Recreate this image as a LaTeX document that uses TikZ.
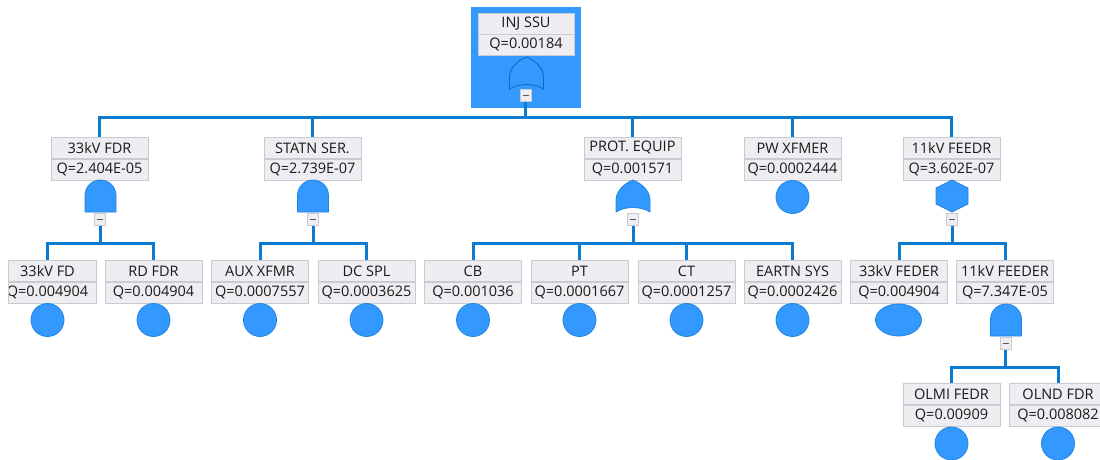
\documentclass[tikz,border=0pt]{standalone}
\usepackage{fontspec}
\setmainfont{Open Sans}
\usetikzlibrary{shapes.geometric}
\definecolor{gblue}{HTML}{3399FF}
\definecolor{gedge}{HTML}{1F86E0}
\definecolor{wire}{HTML}{0B7AD1}
\definecolor{boxfill}{HTML}{EEEEF2}
\definecolor{boxedge}{HTML}{CACAD2}
\definecolor{txt}{HTML}{1A1A1A}
\definecolor{seledge}{HTML}{1568BF}
\tikzset{
  lbl/.style={draw=boxedge, fill=boxfill, minimum width=97pt, minimum height=21pt, inner sep=0pt, line width=0.8pt, font=\fontsize{14.5}{15}\selectfont, text=txt},
  basic/.style={circle, draw=gedge, fill=gblue, minimum size=33pt, inner sep=0pt, line width=0.8pt},
  ellbasic/.style={ellipse, draw=gedge, fill=gblue, minimum width=46pt, minimum height=32pt, inner sep=0pt, line width=0.8pt},
  mbox/.style={draw=boxedge, fill=boxfill, minimum width=11pt, minimum height=12pt, inner sep=0pt, line width=0.8pt},
  wirel/.style={draw=wire, line width=3pt},
  gatefill/.style={fill=gblue, draw=gedge, line width=0.8pt},
  andg/.pic={\path[pic actions] (-15.5,-32) -- (-15.5,-15.5) arc[start angle=180,end angle=0,radius=15.5] -- (15.5,-32) -- cycle;},
  org/.pic={\path[pic actions] (0,0) .. controls (10,-4) and (17,-12) .. (17,-20) -- (17,-32) .. controls (8,-26) and (-8,-26) .. (-17,-32) -- (-17,-20) .. controls (-17,-12) and (-10,-4) .. (0,0) -- cycle;},
  hexg/.pic={\path[pic actions] (0,0) -- (16,-8) -- (16,-24) -- (0,-32) -- (-16,-24) -- (-16,-8) -- cycle;}
}
\newcommand\evbox[5]{%
  \node[lbl, anchor=north] (#1) at (#2,-#3) {#4};
  \node[lbl, anchor=north] (#1q) at (#1.south) {#5};}
\newcommand\minusbox[3]{%
  \node[mbox, anchor=north] (#1) at (#2,-#3) {\textcolor{gray!70!black}{\rule{6pt}{1.4pt}}};}
\begin{document}
\begin{tikzpicture}[x=1pt,y=1pt]
\clip (0,0) rectangle (1100,-459);
\fill[white] (0,0) rectangle (1100,-459);

% ---------- top event (selected) ----------
\node[fill=gblue, minimum width=110pt, minimum height=101pt, inner sep=0pt, anchor=north west] (sel) at (471,-7) {};
\node[lbl, anchor=north, minimum width=96pt, minimum height=20.5pt] (top) at (526,-13) {INJ SSU};
\node[lbl, anchor=north, minimum width=96pt, minimum height=20.5pt] (topq) at (top.south) {Q=0.00184};
\pic[fill=gblue, draw=seledge, line width=0.9pt] at (526.5,-57) {org};
\minusbox{mtop}{525.5}{89}

% ---------- level 2 ----------
\evbox{fdr}{99.5}{137}{33kV FDR}{Q=2.404E-05}
\evbox{stn}{312.5}{137}{STATN SER.}{Q=2.739E-07}
\evbox{prot}{632.5}{137}{PROT. EQUIP}{Q=0.001571}
\evbox{pw}{792.5}{137}{PW XFMER}{Q=0.0002444}
\evbox{elv}{951.5}{137}{11kV FEEDR}{Q=3.602E-07}

\draw[wirel] (mtop.south) -- ++(0,-16) -| (fdr.north);
\draw[wirel] (mtop.south) -- ++(0,-16) -| (stn.north);
\draw[wirel] (mtop.south) -- ++(0,-16) -| (prot.north);
\draw[wirel] (mtop.south) -- ++(0,-16) -| (pw.north);
\draw[wirel] (mtop.south) -- ++(0,-16) -| (elv.north);

\pic[gatefill] at (100.5,-180) {andg};
\minusbox{mfdr}{100}{213}
\pic[gatefill] at (313,-180) {andg};
\minusbox{mstn}{313}{213}
\pic[gatefill] at (633,-180) {org};
\minusbox{mprot}{633}{213}
\node[basic] (pwe) at (792.5,-197) {};
\pic[gatefill] at (952,-180) {hexg};
\minusbox{melv}{952}{213}

% ---------- level 3 ----------
\begin{scope}
\clip (8,-250) rectangle (100,-345);
\evbox{fd}{47.5}{260}{33kV FD}{Q=0.004904}
\end{scope}
\draw[boxedge, line width=0.8pt] (8.4,-260) -- (8.4,-303);
\evbox{rd}{153.5}{260}{RD FDR}{Q=0.004904}
\evbox{aux}{260}{260}{AUX XFMR}{Q=0.0007557}
\evbox{dc}{366.5}{260}{DC SPL}{Q=0.0003625}
\evbox{cb}{473}{260}{CB}{Q=0.001036}
\evbox{pt}{579.5}{260}{PT}{Q=0.0001667}
\evbox{ct}{686.5}{260}{CT}{Q=0.0001257}
\evbox{ea}{792.5}{260}{EARTN SYS}{Q=0.0002426}
\evbox{f33}{899}{260}{33kV FEDER}{Q=0.004904}
\evbox{f11}{1005}{260}{11kV FEEDER}{Q=7.347E-05}

\draw[wirel] (mfdr.south) -- ++(0,-18) -| (fd.north);
\draw[wirel] (mfdr.south) -- ++(0,-18) -| (rd.north);
\draw[wirel] (mstn.south) -- ++(0,-18) -| (aux.north);
\draw[wirel] (mstn.south) -- ++(0,-18) -| (dc.north);
\draw[wirel] (mprot.south) -- ++(0,-18) -| (cb.north);
\draw[wirel] (mprot.south) -- ++(0,-18) -| (pt.north);
\draw[wirel] (mprot.south) -- ++(0,-18) -| (ct.north);
\draw[wirel] (mprot.south) -- ++(0,-18) -| (ea.north);
\draw[wirel] (melv.south) -- ++(0,-18) -| (f33.north);
\draw[wirel] (melv.south) -- ++(0,-18) -| (f11.north);

\node[basic] (fde) at (47.5,-320) {};
\node[basic] (rde) at (153.5,-320) {};
\node[basic] (auxe) at (260,-320) {};
\node[basic] (dce) at (366.5,-320) {};
\node[basic] (cbe) at (473,-320) {};
\node[basic] (pte) at (579.5,-320) {};
\node[basic] (cte) at (686.5,-320) {};
\node[basic] (eae) at (792.5,-320) {};
\node[ellbasic] (f33e) at (898.5,-320) {};
\pic[gatefill] at (1006,-304) {andg};
\minusbox{mf11}{1005.5}{337}

% ---------- level 4 ----------
\evbox{olmi}{951.5}{383}{OLMI FEDR}{Q=0.00909}
\evbox{olnd}{1058}{383}{OLND FDR}{Q=0.008082}
\draw[wirel] (mf11.south) -- ++(0,-18) -| (olmi.north);
\draw[wirel] (mf11.south) -- ++(0,-18) -| (olnd.north);
\node[basic] (olmie) at (951.5,-443.5) {};
\node[basic] (olnde) at (1058,-443.5) {};
\end{tikzpicture}
\end{document}
